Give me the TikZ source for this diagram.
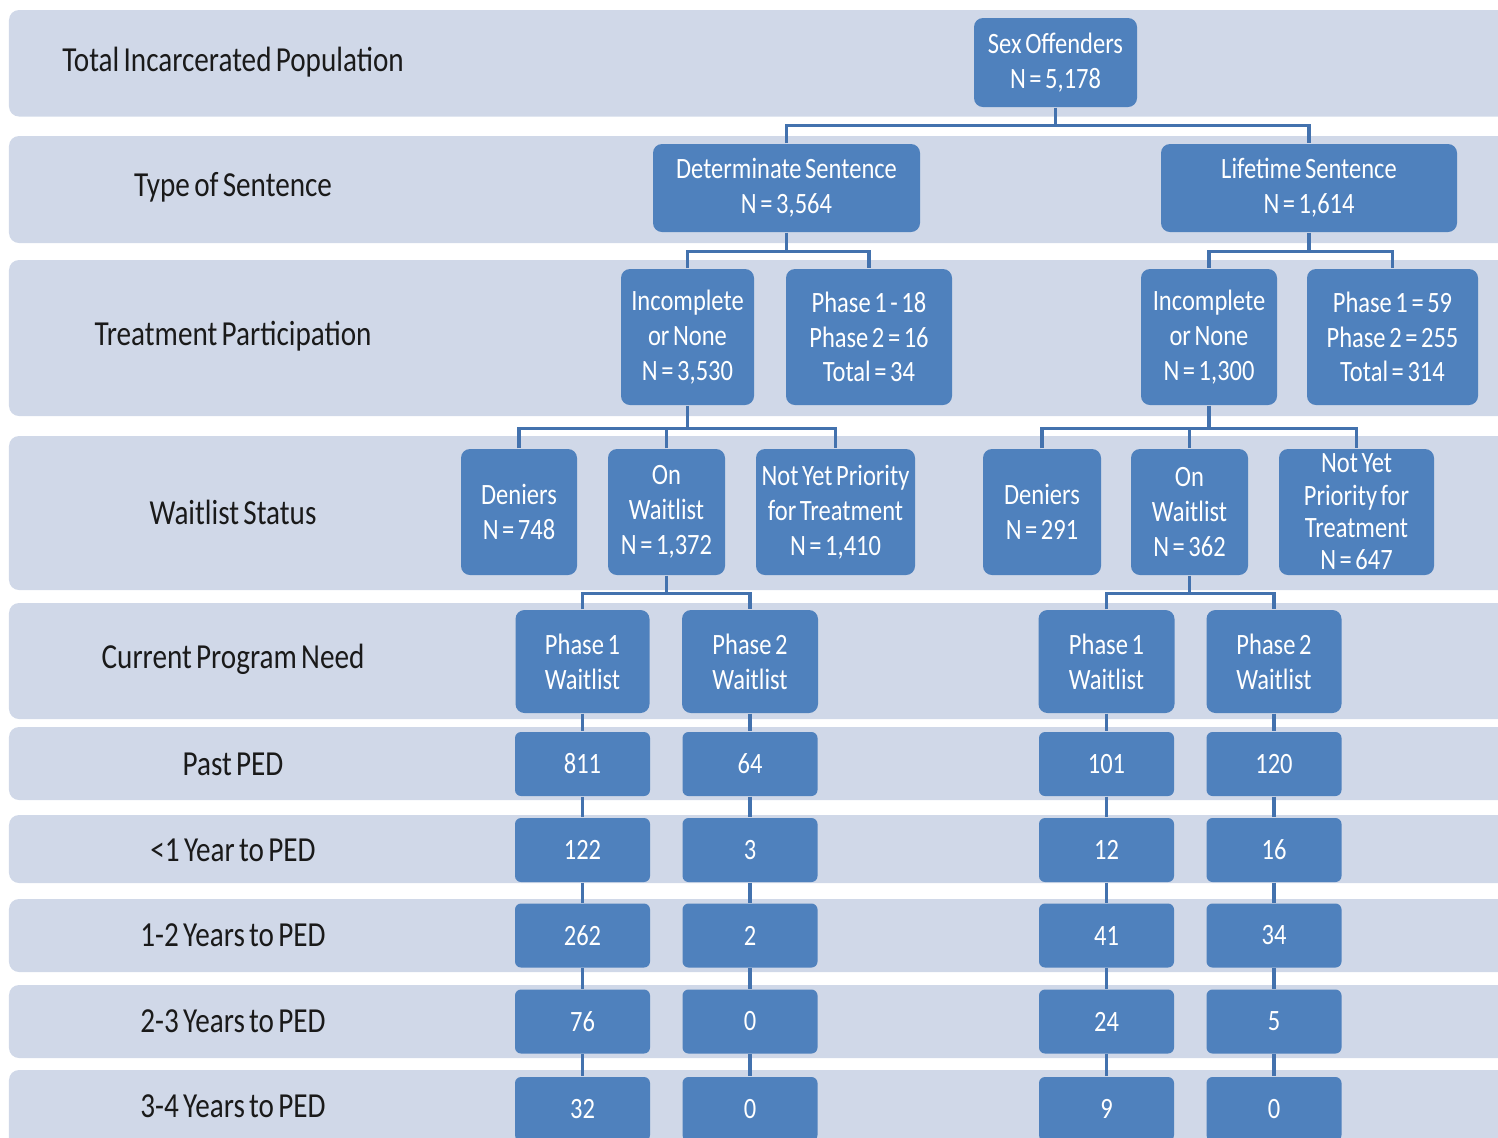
\documentclass[tikz,border=0pt]{standalone}
\usepackage{fontspec}
\setmainfont{Carlito}[FakeStretch=0.83, WordSpace=0.65]
\usetikzlibrary{positioning,calc}
\definecolor{Band}{HTML}{D0D8E8}
\definecolor{Box}{HTML}{4F81BD}
\definecolor{Link}{HTML}{4372AE}
\definecolor{Ink}{HTML}{1A1A1A}
\tikzset{
  band/.style={fill=Band, rounded corners=1mm},
  lbl/.style={text=Ink, font=\fontsize{10}{12}\selectfont, inner sep=0pt},
  box/.style={fill=Box, rounded corners=0.9mm, text=white, align=center,
              font=\fontsize{8.4}{9.9}\selectfont, inner sep=0pt},
  numbox/.style={box, rounded corners=0.6mm, minimum width=13.5mm, minimum height=6.4mm},
  link/.style={draw=Link, line width=1pt},
}

\begin{document}
\begin{tikzpicture}[x=1mm, y=-1mm]
  \clip (0,0) rectangle (149.8,113.7);
  % row bands
  \foreach \top/\bot in {1.0/11.65, 13.6/24.3, 26.0/41.6, 43.6/59.0, 60.3/71.9,
      72.7/80.0, 81.5/88.3, 89.9/97.2, 98.5/105.8, 107.0/118}
    \fill[band] (0.9,\top) rectangle (160,\bot);

  % row titles
  \node[lbl] (lTotal) at (23.3,6.2)   {Total Incarcerated Population};
  \node[lbl] (lType)  at (23.3,18.7)  {Type of Sentence};
  \node[lbl] (lTreat) at (23.3,33.6)  {Treatment Participation};
  \node[lbl] (lWait)  at (23.3,51.2)  {Waitlist Status};
  \node[lbl] (lNeed)  at (23.3,65.9)  {Current Program Need};
  \node[lbl] (lPast)  at (23.3,76.4)  {Past PED};
  \node[lbl] (lOne)   at (23.3,85.0)  {<1 Year to PED};
  \node[lbl] (lTwo)   at (23.3,93.5)  {1-2 Years to PED};
  \node[lbl] (lThree) at (23.3,102.1) {2-3 Years to PED};
  \node[lbl] (lFour)  at (23.3,110.6) {3-4 Years to PED};

  % tree
  \node[box, minimum width=16.3mm, minimum height=8.9mm] (sex) at (105.55,6.25)
    {Sex Offenders\\N = 5,178};
  \node[box, minimum width=26.7mm, minimum height=8.8mm] (det) at (78.65,18.8)
    {Determinate Sentence\\N = 3,564};
  \node[box, minimum width=29.6mm, minimum height=8.8mm] (life) at (130.9,18.8)
    {Lifetime Sentence\\N = 1,614};

  \node[box, minimum width=13.3mm, minimum height=13.6mm] (incD) at (68.75,33.7)
    {Incomplete\\or None\\N = 3,530};
  \node[box, minimum width=16.6mm, minimum height=13.6mm] (phD) at (86.9,33.7)
    {Phase 1 - 18\\Phase 2 = 16\\Total = 34};
  \node[box, minimum width=13.6mm, minimum height=13.6mm] (incL) at (120.9,33.7)
    {Incomplete\\or None\\N = 1,300};
  \node[box, minimum width=17.1mm, minimum height=13.6mm] (phL) at (139.25,33.7)
    {Phase 1 = 59\\Phase 2 = 255\\Total = 314};

  \node[box, minimum width=11.6mm, minimum height=12.6mm] (denD) at (51.9,51.2)
    {Deniers\\N = 748};
  \node[box, minimum width=11.7mm, minimum height=12.6mm] (onD) at (66.65,51.2)
    {On\\Waitlist\\N = 1,372};
  \node[box, minimum width=15.9mm, minimum height=12.6mm] (notD) at (83.55,51.2)
    {Not Yet Priority\\for Treatment\\N = 1,410};
  \node[box, minimum width=11.8mm, minimum height=12.6mm] (denL) at (104.2,51.2)
    {Deniers\\N = 291};
  \node[box, minimum width=11.7mm, minimum height=12.6mm] (onL) at (118.95,51.2)
    {On\\Waitlist\\N = 362};
  \node[box, minimum width=15.5mm, minimum height=12.6mm,
        font=\fontsize{8.4}{9.2}\selectfont] (notL) at (135.65,51.2)
    {Not Yet\\Priority for\\Treatment\\N = 647};

  \node[box, minimum width=13.4mm, minimum height=10.3mm] (p1D) at (58.25,66.15)
    {Phase 1\\Waitlist};
  \node[box, minimum width=13.6mm, minimum height=10.3mm] (p2D) at (75.0,66.15)
    {Phase 2\\Waitlist};
  \node[box, minimum width=13.6mm, minimum height=10.3mm] (p1L) at (110.65,66.15)
    {Phase 1\\Waitlist};
  \node[box, minimum width=13.5mm, minimum height=10.3mm] (p2L) at (127.4,66.15)
    {Phase 2\\Waitlist};

  % counts by years to PED
  \foreach \yy/\pa/\pb/\pc/\pd [count=\i] in {76.4/811/64/101/120, 85.0/122/3/12/16,
      93.55/262/2/41/34, 102.15/76/0/24/5, 110.9/32/0/9/0} {
    \node[numbox] (a\i) at (58.25,\yy)  {\pa};
    \node[numbox] (b\i) at (75.0,\yy)   {\pb};
    \node[numbox] (c\i) at (110.65,\yy) {\pc};
    \node[numbox] (d\i) at (127.4,\yy)  {\pd};
  }

  % connectors
  \draw[link] (sex.south) -- ++(0,1.8) coordinate (jS);
  \draw[link] (det.north) |- (jS) -| (life.north);
  \draw[link] (det.south) -- ++(0,1.9) coordinate (jD);
  \draw[link] (incD.north) |- (jD) -| (phD.north);
  \draw[link] (life.south) -- ++(0,1.9) coordinate (jL);
  \draw[link] (incL.north) |- (jL) -| (phL.north);
  \draw[link] (incD.south) -- ++(0,2.3) coordinate (jI);
  \draw[link] (denD.north) |- (jI) -| (notD.north);
  \draw[link] (onD.north) -- (onD.north |- jI);
  \draw[link] (incL.south) -- ++(0,2.3) coordinate (jJ);
  \draw[link] (denL.north) |- (jJ) -| (notL.north);
  \draw[link] (onL.north) -- (onL.north |- jJ);
  \draw[link] (onD.south) -- ++(0,1.8) coordinate (jO);
  \draw[link] (p1D.north) |- (jO) -| (p2D.north);
  \draw[link] (onL.south) -- ++(0,1.8) coordinate (jP);
  \draw[link] (p1L.north) |- (jP) -| (p2L.north);
  \foreach \col/\up in {a/p1D, b/p2D, c/p1L, d/p2L} {
    \draw[link] (\up) -- (\col1);
    \foreach \i [evaluate=\i as \j using int(\i+1)] in {1,...,4}
      \draw[link] (\col\i) -- (\col\j);
  }
\end{tikzpicture}
\end{document}
